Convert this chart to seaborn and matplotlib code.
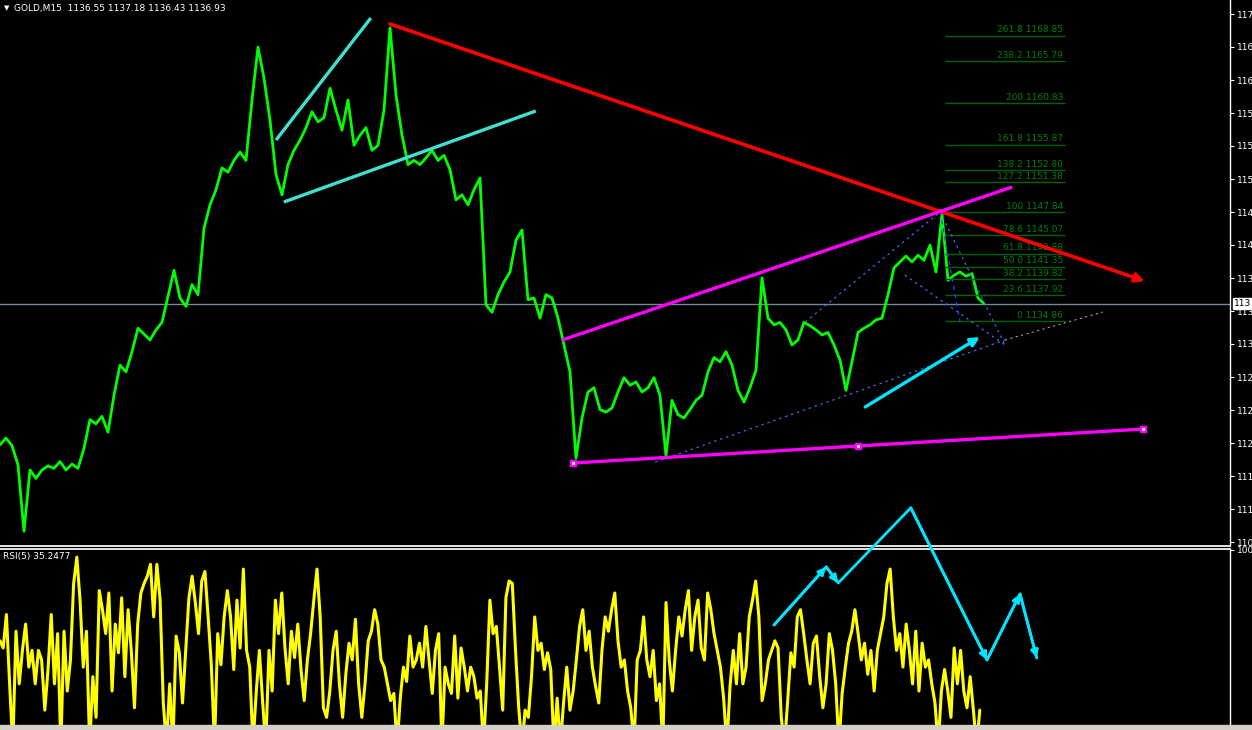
import matplotlib
matplotlib.use("Agg")
import numpy as np
import pandas as pd
import matplotlib.pyplot as plt
import seaborn as sns
from matplotlib.patches import Rectangle

# ---- values ----
symbol = "GOLD,M15"
ohlc_header = ["1136.55", "1137.18", "1136.43", "1136.93"]
bid_price = 1136.93
rsi_name = "RSI(5)"
rsi_last = "35.2477"

# close prices, one sample every few bars
close_prices = [
    1120.1, 1120.9, 1120.0, 1117.7, 1109.8, 1117.1, 1116.1, 1117.1, 1117.6, 1117.3,
    1118.1, 1117.1, 1117.8, 1117.3, 1119.7, 1123.1, 1122.6, 1123.5, 1121.6, 1126.0,
    1129.6, 1128.8, 1131.2, 1134.0, 1133.3, 1132.6, 1133.8, 1134.7, 1137.8, 1140.9,
    1137.6, 1136.6, 1139.2, 1138.0, 1145.9, 1148.7, 1150.5, 1153.1, 1152.6, 1154.0,
    1155.0, 1154.0, 1161.2, 1167.5, 1163.8, 1158.8, 1152.3, 1149.9, 1153.5, 1155.2,
    1156.4, 1157.9, 1159.8, 1158.6, 1159.1, 1162.6, 1160.0, 1157.6, 1161.2, 1155.8,
    1157.0, 1157.9, 1155.2, 1155.8, 1160.0, 1169.8, 1161.8, 1157.0, 1153.5, 1154.0,
    1153.5, 1154.3, 1155.2, 1154.0, 1154.6, 1152.9, 1149.3, 1149.9, 1148.7, 1150.5,
    1151.9, 1136.8, 1135.9, 1138.0, 1139.5, 1140.7, 1144.5, 1145.7, 1137.4, 1137.6,
    1135.2, 1138.0, 1137.6, 1135.2, 1132.0, 1128.8, 1118.5, 1123.3, 1126.4, 1126.9,
    1124.3, 1124.0, 1124.5, 1126.4, 1128.1, 1127.2, 1127.6, 1126.4, 1126.9, 1128.1,
    1126.0, 1118.8, 1125.4, 1123.7, 1123.3, 1124.3, 1125.4, 1126.0, 1128.8, 1130.5,
    1130.0, 1131.2, 1129.6, 1126.6, 1125.2, 1126.9, 1129.0, 1140.0, 1135.2, 1134.4,
    1134.7, 1133.8, 1132.0, 1132.6, 1134.7, 1134.3, 1133.8, 1133.2, 1133.5, 1132.0,
    1130.2, 1126.6, 1130.0, 1133.5, 1134.0, 1134.4, 1135.0, 1135.2, 1138.0, 1141.2,
    1141.9, 1142.6, 1141.9, 1142.7, 1142.1, 1143.9, 1140.7, 1147.6, 1139.7, 1140.3,
    1140.7, 1140.2, 1140.5, 1137.6, 1136.93,
]

rsi_values = [
    62, 59, 73, 44, 18, 66, 44, 58, 69, 51, 58, 44, 58, 54, 33, 50, 73, 44, 65, 18,
    66, 41, 54, 86, 97, 79, 51, 66, 18, 47, 30, 83, 75, 65, 82, 41, 69, 57, 80, 47,
    75, 58, 34, 69, 82, 86, 89, 94, 72, 94, 79, 36, 18, 44, 18, 64, 57, 36, 58, 80,
    89, 78, 65, 87, 91, 72, 52, 18, 65, 52, 72, 83, 72, 50, 79, 59, 92, 58, 51, 18,
    40, 58, 37, 18, 58, 41, 79, 65, 82, 59, 44, 66, 55, 69, 50, 37, 54, 65, 79, 92,
    72, 34, 30, 41, 58, 66, 44, 30, 48, 61, 54, 71, 44, 30, 44, 62, 66, 75, 69, 54,
    51, 44, 37, 40, 18, 38, 51, 45, 64, 51, 54, 61, 51, 68, 54, 40, 58, 65, 18, 51,
    44, 40, 64, 38, 59, 51, 41, 51, 47, 38, 41, 18, 44, 79, 65, 68, 51, 33, 80, 87,
    86, 58, 34, 18, 33, 30, 47, 72, 58, 61, 50, 57, 50, 18, 38, 18, 36, 51, 33, 41,
    54, 68, 75, 58, 66, 51, 43, 36, 58, 72, 66, 75, 82, 62, 51, 54, 41, 34, 18, 54,
    58, 72, 54, 47, 58, 37, 44, 18, 78, 54, 41, 58, 72, 64, 75, 83, 58, 72, 79, 59,
    54, 82, 75, 65, 58, 51, 38, 18, 43, 58, 44, 65, 44, 51, 72, 79, 87, 72, 37, 44,
    54, 58, 62, 59, 30, 18, 37, 57, 51, 72, 75, 65, 54, 44, 61, 64, 47, 34, 44, 65,
    58, 44, 18, 40, 51, 61, 66, 75, 65, 54, 61, 48, 58, 41, 58, 65, 72, 86, 92, 72,
    58, 65, 51, 69, 58, 44, 66, 41, 61, 51, 54, 44, 36, 18, 41, 50, 41, 30, 59, 44,
    58, 41, 34, 47, 33, 18, 33,
]

# fibonacci retracement labels
fib_levels = ["261.8", "238.2", "200", "161.8", "138.2", "127.2", "100",
              "78.6", "61.8", "50.0", "38.2", "23.6", "0"]
fib_prices = [1168.85, 1165.79, 1160.83, 1155.87, 1152.80, 1151.38, 1147.84,
              1145.07, 1142.88, 1141.35, 1139.82, 1137.92, 1134.86]
fib_span = (157.5, 177.5)

# right axis ticks (labels are cut by the window edge)
price_ticks = [1171.45, 1167.52, 1163.58, 1159.65, 1155.72, 1151.78, 1147.85,
               1143.92, 1139.98, 1136.05, 1132.12, 1128.18, 1124.25, 1120.31,
               1116.38, 1112.45, 1108.51]
price_tick_labels = ["117", "116", "116", "115", "115", "115", "114", "114",
                     "113", "113", "113", "112", "112", "112", "111", "111", "110"]

# hand drawn objects: (bar, price)
red_trend = [(65.0, 1170.26), (190.8, 1139.62)]
cyan_upper = [(46.0, 1156.43), (61.8, 1170.97)]
cyan_lower = [(47.3, 1149.04), (89.3, 1159.89)]
magenta_upper = [(93.7, 1132.59), (168.7, 1150.83)]
magenta_lower = [(95.5, 1117.93), (143.0, 1119.96), (190.5, 1121.98)]
cyan_arrow = [(144.2, 1124.61), (163.3, 1132.95)]
blue_dotted = [
    [(109.2, 1118.05), (167.5, 1132.59)],
    [(134.2, 1134.74), (156.7, 1147.85)],
    [(156.7, 1147.85), (167.5, 1131.99)],
    [(150.8, 1140.34), (167.5, 1131.99)],
]
blue_dashed = [(156.7, 1147.85), (160.0, 1134.74)]
grey_dotted = [(167.5, 1132.59), (183.8, 1135.93)]
# zigzag on the RSI window: (bar, rsi)
rsi_zigzag = [(129.0, 68.6), (137.7, 92.9), (139.7, 86.2), (151.8, 117.6),
              (164.5, 54.0), (170.0, 81.6), (172.8, 54.8)]
zigzag_heads = [1, 2, 4, 5, 6]

# ---- styling ----
sns.set_theme(style="dark")
plt.rcParams["font.family"] = ["DejaVu Sans"]
plt.rcParams["axes.facecolor"] = "black"
plt.rcParams["figure.facecolor"] = "black"

W, H = 1252, 730
fig = plt.figure(figsize=(W / 100, H / 100), dpi=100)
right = 1230 / W
ax = fig.add_axes([0, (H - 545.5) / H, right, 545.5 / H])
ax_rsi = fig.add_axes([0, 5 / H, right, (H - 548.5 - 5) / H])

price_df = pd.DataFrame({"bar": np.arange(len(close_prices)), "close": close_prices})
sns.lineplot(data=price_df, x="bar", y="close", ax=ax, color="#00ff00", lw=2.0)

rsi_df = pd.DataFrame({"bar": np.linspace(0, 163.3, len(rsi_values)), "rsi": rsi_values})
sns.lineplot(data=rsi_df, x="bar", y="rsi", ax=ax_rsi, color="#ffff00", lw=2.2)

ax.set_xlim(0, 205)
ax.set_ylim(1108.10, 1173.12)
ax_rsi.set_xlim(0, 205)
ax_rsi.set_ylim(26.8, 100.6)

for a in (ax, ax_rsi):
    a.set_facecolor("black")
    a.set_xlabel("")
    a.set_ylabel("")
    a.set_xticks([])
    a.grid(False)
    for s in a.spines.values():
        s.set_visible(False)
    a.spines["right"].set_visible(True)
    a.spines["right"].set_color("white")
    a.spines["right"].set_linewidth(1)
    a.yaxis.tick_right()
    a.tick_params(axis="y", colors="white", labelsize=6.5, length=3, width=0.8,
                  pad=2, direction="out", right=True, left=False)
ax.spines["bottom"].set_visible(True)
ax.spines["bottom"].set_color("white")
ax_rsi.spines["top"].set_visible(True)
ax_rsi.spines["top"].set_color("white")

ax.set_yticks(price_ticks)
ax.set_yticklabels(price_tick_labels)
ax_rsi.set_yticks([100])
ax_rsi.set_yticklabels(["100"])

# bid line and its price box
ax.axhline(bid_price, color="#778899", lw=1, zorder=1)
ax.annotate(ohlc_header[3][:3], xy=(1.0, bid_price), xycoords=("axes fraction", "data"),
            xytext=(3, 0), textcoords="offset points", va="center", ha="left",
            fontsize=6.5, color="black", annotation_clip=False,
            bbox=dict(boxstyle="square,pad=0.15", fc="white", ec="white"))

# fibonacci levels
ax.hlines(fib_prices, fib_span[0], fib_span[1], color="#006400", lw=1, zorder=2)
for lvl, p in zip(fib_levels, fib_prices):
    ax.annotate(f"{lvl} {p:.2f}", xy=(fib_span[1] - 0.3, p), xytext=(0, 1),
                textcoords="offset points", ha="right", va="bottom",
                fontsize=6.5, color="#008000")


def seg(points, **kw):
    xs, ys = zip(*points)
    ax.plot(xs, ys, solid_capstyle="butt", **kw)


def arrow(a, p0, p1, color, lw, scale=12):
    a.annotate("", xy=p1, xytext=p0, annotation_clip=False,
               arrowprops=dict(arrowstyle="-|>", color=color, lw=lw,
                               shrinkA=0, shrinkB=0, mutation_scale=scale))


for pts in blue_dotted:
    seg(pts, color="#4169e1", lw=0.9, ls=(0, (2, 3)), zorder=3)
seg(blue_dashed, color="#1e3cff", lw=1.0, ls=(0, (3, 3)), zorder=3)
seg(grey_dotted, color="#a0a0a0", lw=0.8, ls=(0, (2, 3)), zorder=3)

seg(cyan_upper, color="#40e0d0", lw=2.4, zorder=4)
seg(cyan_lower, color="#40e0d0", lw=2.4, zorder=4)
seg(magenta_upper, color="#ff00ff", lw=2.4, zorder=4)
seg(magenta_lower, color="#ff00ff", lw=2.4, zorder=4)
mx, my = zip(*magenta_lower)
ax.plot(mx, my, ls="none", marker="s", ms=5, color="#ff00ff", zorder=5)
ax.plot(mx, my, ls="none", marker="s", ms=1.2, color="white", zorder=6)

arrow(ax, red_trend[0], red_trend[1], "#ff0000", 2.6, scale=13)
arrow(ax, cyan_arrow[0], cyan_arrow[1], "#00e5ff", 2.4, scale=13)

zx, zy = zip(*rsi_zigzag)
ax_rsi.plot(zx, zy, color="#00e5ff", lw=2.0, clip_on=False, zorder=6)
for i in zigzag_heads:
    arrow(ax_rsi, rsi_zigzag[i - 1], rsi_zigzag[i], "#00e5ff", 2.0, scale=11)

# window texts
fig.text(4 / W, 1 - 8 / H, "\u25bc", fontsize=5, color="white", va="center")
fig.text(14 / W, 1 - 8 / H, symbol + "  " + " ".join(ohlc_header),
         fontsize=6.5, color="white", va="center")
ax_rsi.text(3 / W / right, 0.955, f"{rsi_name} {rsi_last}", transform=ax_rsi.transAxes,
            fontsize=6.5, color="white", va="center")

fig.add_artist(Rectangle((0, 0), 1, 5 / H, transform=fig.transFigure,
                         color="#d4d0c8", zorder=10))

fig.savefig("out.png", dpi=100, facecolor="black")
